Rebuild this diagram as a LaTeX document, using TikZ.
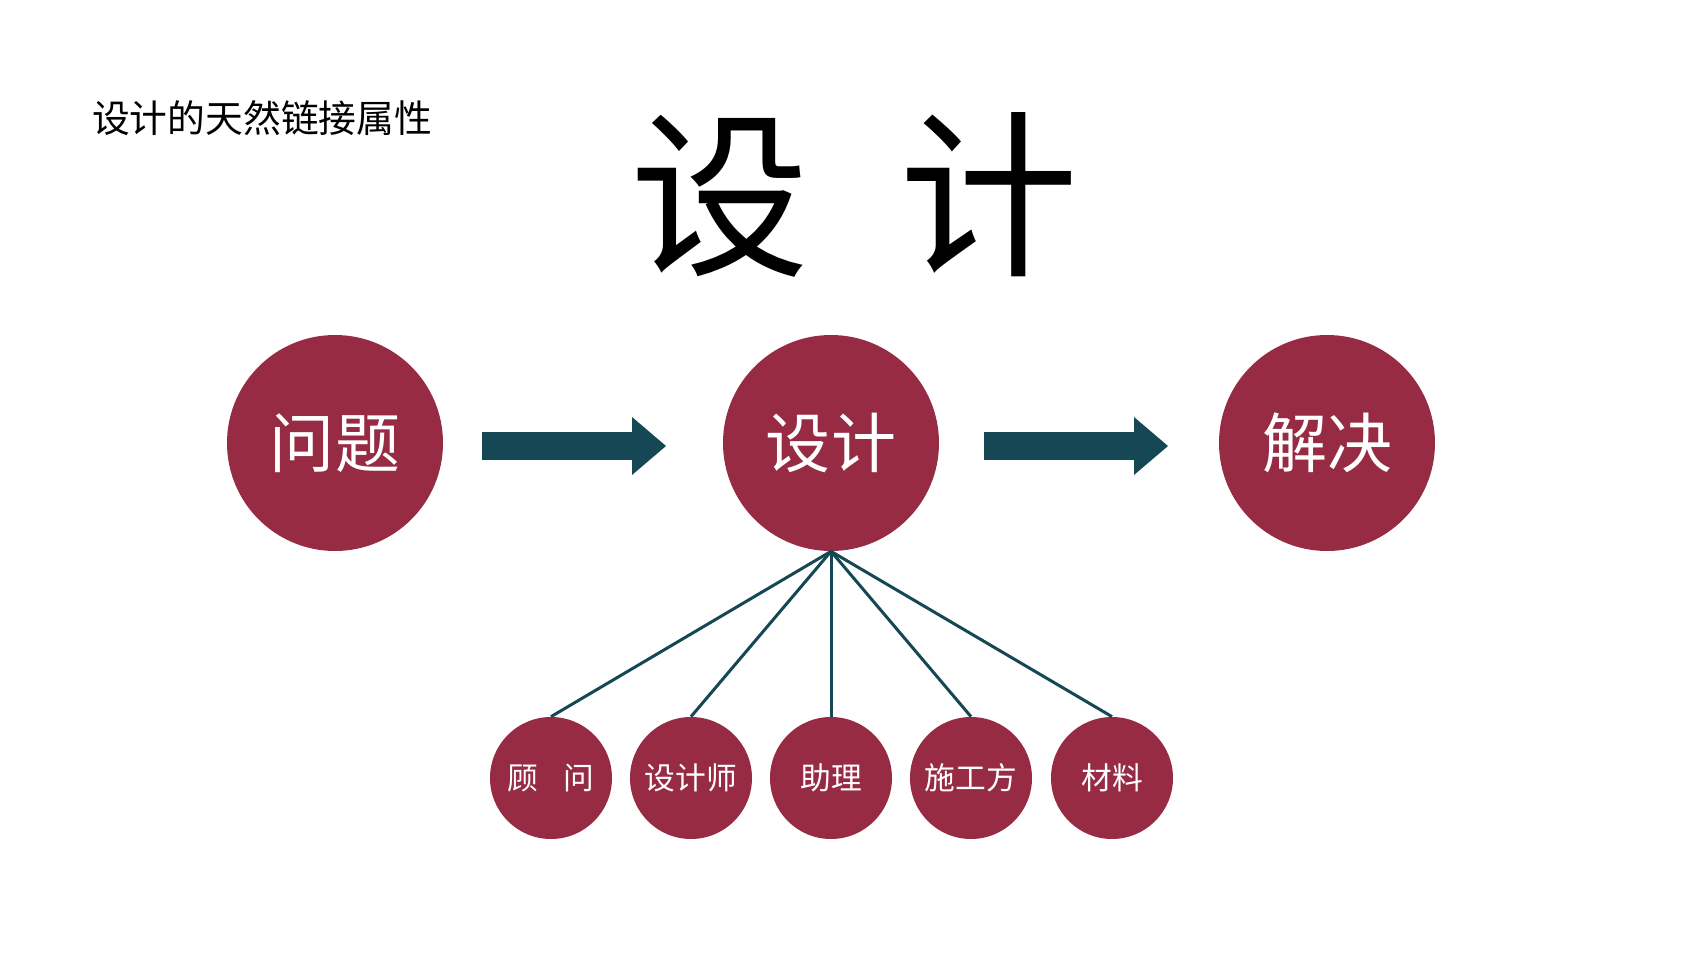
\documentclass[tikz,border=0pt]{standalone}
\usepackage{fontspec}
\setmainfont{Noto Sans CJK SC}
\usetikzlibrary{positioning,calc}
\definecolor{wine}{HTML}{962B43}
\definecolor{teal}{HTML}{154754}
\newlength{\px}
\setlength{\px}{0.02cm}
\tikzset{
	bigcirc/.style={circle, fill=wine, minimum size=216\px, inner sep=0pt, text=white, font=\fontsize{37}{40}\selectfont},
	smallcirc/.style={circle, fill=wine, minimum size=122\px, inner sep=0pt, text=white, font=\fontsize{17.5}{20}\selectfont},
	link/.style={teal, line width=3\px},
	flow/.style={teal, line width=28\px}
}
\begin{document}
\begin{tikzpicture}[x=0.02cm,y=-0.02cm]
	\useasboundingbox (0,0) rectangle (1705,960);
	\node[anchor=west, font=\fontsize{21.5}{24}\selectfont] (caption) at (86,118) {设计的天然链接属性};
	\node[font=\fontsize{102}{110}\selectfont] (title) at (855,195) {设\hspace{0.5em}计};

	\node[bigcirc] (problem) at (335,443) {问题};
	\node[bigcirc] (design) at (831,443) {设计};
	\node[bigcirc] (solve) at (1327,443) {解决};

	\node[smallcirc] (advisor) at (551,778) {顾\hspace{0.8em}问};
	\node[smallcirc] (designer) at (691,778) {设计师};
	\node[smallcirc] (assistant) at (831,778) {助理};
	\node[smallcirc] (builder) at (971,778) {施工方};
	\node[smallcirc] (material) at (1112,778) {材料};

	\coordinate (a1) at (482,446);
	\coordinate (a2) at (666,446);
	\coordinate (b1) at (984,446);
	\coordinate (b2) at (1168,446);
	\draw[flow] (a1) -- ($(a2)+(-34,0)$);
	\fill[teal] (a2) -- ++(-34,-29) -- ++(0,58) -- cycle;
	\draw[flow] (b1) -- ($(b2)+(-34,0)$);
	\fill[teal] (b2) -- ++(-34,-29) -- ++(0,58) -- cycle;

	\foreach \n in {advisor,designer,assistant,builder,material}
		\draw[link] (design.south) -- (\n.north);
\end{tikzpicture}
\end{document}
